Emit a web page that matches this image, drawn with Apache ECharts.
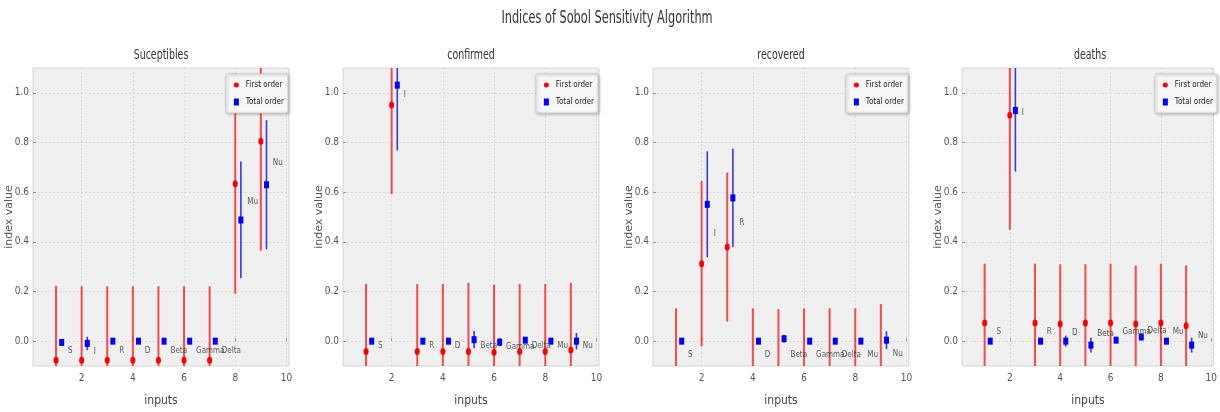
<!DOCTYPE html>
<html><head><meta charset="utf-8">
<script src="https://cdn.jsdelivr.net/npm/echarts@6/dist/echarts.min.js"></script>
<style>html,body{margin:0;padding:0;background:#fff}#c{width:1220px;height:412px}</style>
</head><body><div id="c"></div>
<script>
const figTitle = 'Indices of Sobol Sensitivity Algorithm';
const panels = ['Suceptibles', 'confirmed', 'recovered', 'deaths'];
const inputs = ['S', 'I', 'R', 'D', 'Beta', 'Gamma', 'Delta', 'Mu', 'Nu'];
const xPositions = [1, 2, 3, 4, 5, 6, 7, 8, 9];
const xTicks = [2, 4, 6, 8, 10];
const yTicks = [0, 0.2, 0.4, 0.6, 0.8, 1.0];

// First order indices and confidence half-widths
const s1Sus = [-0.077, -0.077, -0.077, -0.077, -0.077, -0.077, -0.077, 0.634, 0.805];
const s1SusErr = [0.30, 0.298, 0.298, 0.298, 0.298, 0.298, 0.298, 0.443, 0.441];
const s1Con = [-0.042, 0.951, -0.042, -0.042, -0.042, -0.045, -0.042, -0.042, -0.036];
const s1ConErr = [0.273, 0.359, 0.272, 0.272, 0.277, 0.272, 0.272, 0.272, 0.271];
const s1Rec = [-0.11, 0.312, 0.379, -0.11, -0.118, -0.11, -0.11, -0.11, -0.105];
const s1RecErr = [0.242, 0.333, 0.30, 0.242, 0.247, 0.242, 0.242, 0.242, 0.254];
const s1Dea = [0.073, 0.910, 0.073, 0.069, 0.073, 0.073, 0.069, 0.073, 0.062];
const s1DeaErr = [0.239, 0.462, 0.239, 0.240, 0.237, 0.239, 0.236, 0.239, 0.243];

// Total order indices and confidence half-widths
const stSus = [-0.005, -0.009, 0, 0, 0, 0, 0, 0.488, 0.630];
const stSusErr = [0.01, 0.027, 0.008, 0.008, 0.008, 0.008, 0.008, 0.235, 0.26];
const stCon = [0, 1.031, 0, 0, 0.006, -0.004, 0.004, 0, 0];
const stConErr = [0.008, 0.263, 0.008, 0.008, 0.035, 0.017, 0.01, 0.008, 0.033];
const stRec = [0, 0.551, 0.577, 0, 0.010, 0, 0, 0, 0.004];
const stRecErr = [0.008, 0.213, 0.198, 0.008, 0.015, 0.008, 0.008, 0.008, 0.036];
const stDea = [0, 0.929, 0, 0, -0.016, 0.004, 0.017, 0, -0.016];
const stDeaErr = [0.008, 0.246, 0.008, 0.022, 0.03, 0.008, 0.013, 0.008, 0.03];

const firstOrder = [s1Sus, s1Con, s1Rec, s1Dea];
const firstErr = [s1SusErr, s1ConErr, s1RecErr, s1DeaErr];
const totalOrder = [stSus, stCon, stRec, stDea];
const totalErr = [stSusErr, stConErr, stRecErr, stDeaErr];

const TOTAL_DX = 0.22;   // horizontal offset of total-order marks
const LABEL_DX = 0.45;   // horizontal offset of input labels

const NARROW = "'Liberation Sans Narrow','DejaVu Sans Condensed','Roboto Condensed',sans-serif";
const GRID_LEFT = [33, 343, 653, 962];
const GRID_W = 256, GRID_TOP = 68, GRID_H = 306;

const chart = echarts.init(document.getElementById('c'), null, {renderer: 'canvas'});

function errSeries(g, xs, vals, errs, color, width) {
  return {
    type: 'custom', xAxisIndex: g, yAxisIndex: g, clip: true, silent: true, z: 2,
    data: xs.map((x, i) => [x, vals[i] - errs[i], vals[i] + errs[i]]),
    encode: {x: 0, y: [1, 2]},
    renderItem(params, api) {
      const p1 = api.coord([api.value(0), api.value(1)]);
      const p2 = api.coord([api.value(0), api.value(2)]);
      return {type: 'line', shape: {x1: p1[0], y1: p1[1], x2: p2[0], y2: p2[1]},
              style: {stroke: color, lineWidth: width}};
    }
  };
}

const grids = [], xAxes = [], yAxes = [], series = [], legends = [], graphics = [];
panels.forEach((name, g) => {
  grids.push({left: GRID_LEFT[g], top: GRID_TOP, width: GRID_W, height: GRID_H,
    show: true, backgroundColor: '#f0f0f0', borderColor: '#d6d6d6', borderWidth: 1});
  xAxes.push({type: 'value', gridIndex: g, min: 0.1, max: 10.1,
    name: 'inputs', nameLocation: 'middle', nameGap: 29, nameMoveOverlap: false,
    nameTextStyle: {fontFamily: NARROW, fontSize: 12, color: '#444'},
    axisLine: {show: false},
    axisTick: {show: true, inside: true, length: 3, lineStyle: {color: '#999'}, customValues: xTicks},
    axisLabel: {fontFamily: NARROW, fontSize: 10, color: '#555', margin: 7, customValues: xTicks},
    splitLine: {show: true, lineStyle: {color: '#dadada', type: [2, 2], width: 1}}
  });
  yAxes.push({type: 'value', gridIndex: g, min: -0.1, max: 1.1,
    name: 'index value', nameLocation: 'middle', nameGap: 18, nameRotate: 90, nameMoveOverlap: false,
    nameTextStyle: {fontFamily: 'DejaVu Sans', fontSize: 11, color: '#555'},
    axisLine: {show: false},
    axisTick: {show: true, inside: true, length: 3, lineStyle: {color: '#999'}, customValues: yTicks},
    axisLabel: {fontFamily: NARROW, fontSize: 10, color: '#555', margin: 4, customValues: yTicks,
      formatter: v => Number(v).toFixed(1)},
    splitLine: {show: true, lineStyle: {color: '#dadada', type: [2, 2], width: 1}}
  });
  const s1 = firstOrder[g], s1e = firstErr[g], st = totalOrder[g], ste = totalErr[g];
  const xt = xPositions.map(x => x + TOTAL_DX);
  series.push(errSeries(g, xPositions, s1, s1e, 'rgba(255,25,25,0.78)', 2));
  series.push(errSeries(g, xt, st, ste, 'rgba(20,20,255,0.85)', 1.6));
  series.push({type: 'scatter', name: 'First order', xAxisIndex: g, yAxisIndex: g, z: 3,
    symbol: 'circle', symbolSize: [5, 7], itemStyle: {color: '#ff0000', opacity: 1},
    data: xPositions.map((x, i) => [x, s1[i]])});
  series.push({type: 'scatter', name: 'Total order', xAxisIndex: g, yAxisIndex: g, z: 3,
    symbol: 'rect', symbolSize: [5, 7], itemStyle: {color: '#0000ff', opacity: 1},
    data: xt.map((x, i) => [x, st[i]])});
  series.push({type: 'scatter', name: 'labels', xAxisIndex: g, yAxisIndex: g, z: 4, silent: true,
    symbolSize: 1, itemStyle: {color: 'rgba(0,0,0,0)'},
    data: xPositions.map((x, i) => [x + LABEL_DX, (s1[i] + st[i]) / 2, inputs[i]]),
    label: {show: true, position: 'right', distance: 0, formatter: p => p.value[2],
      fontFamily: NARROW, fontSize: 8, color: '#333'}});
  legends.push({
    right: 1220 - (GRID_LEFT[g] + GRID_W) + 1, top: GRID_TOP + 6,
    orient: 'vertical', selectedMode: false,
    data: [{name: 'First order', icon: 'circle'}, {name: 'Total order', icon: 'rect'}],
    itemWidth: 5, itemHeight: 7, itemGap: 9,
    padding: [7, 4, 7, 8],
    backgroundColor: '#f7f7f7', borderColor: '#cfcfcf', borderWidth: 1, borderRadius: 2,
    shadowColor: 'rgba(0,0,0,0.25)', shadowBlur: 3, shadowOffsetX: 1, shadowOffsetY: 1,
    textStyle: {fontFamily: NARROW, fontSize: 8, color: '#222', padding: [0, 0, 0, 2]}
  });
  graphics.push({type: 'text', x: GRID_LEFT[g] + GRID_W / 2, y: 55, scaleX: 0.75, silent: true,
    style: {text: name, fill: '#333', font: '14px ' + NARROW, align: 'center', verticalAlign: 'middle'}});
});
graphics.push({type: 'text', x: 607, y: 18, scaleX: 0.7, silent: true,
  style: {text: figTitle, fill: '#333', font: '18px ' + NARROW, align: 'center', verticalAlign: 'middle'}});

chart.setOption({
  animation: false,
  backgroundColor: '#ffffff',
  grid: grids, xAxis: xAxes, yAxis: yAxes, series: series, legend: legends,
  graphic: graphics
});
</script></body></html>
